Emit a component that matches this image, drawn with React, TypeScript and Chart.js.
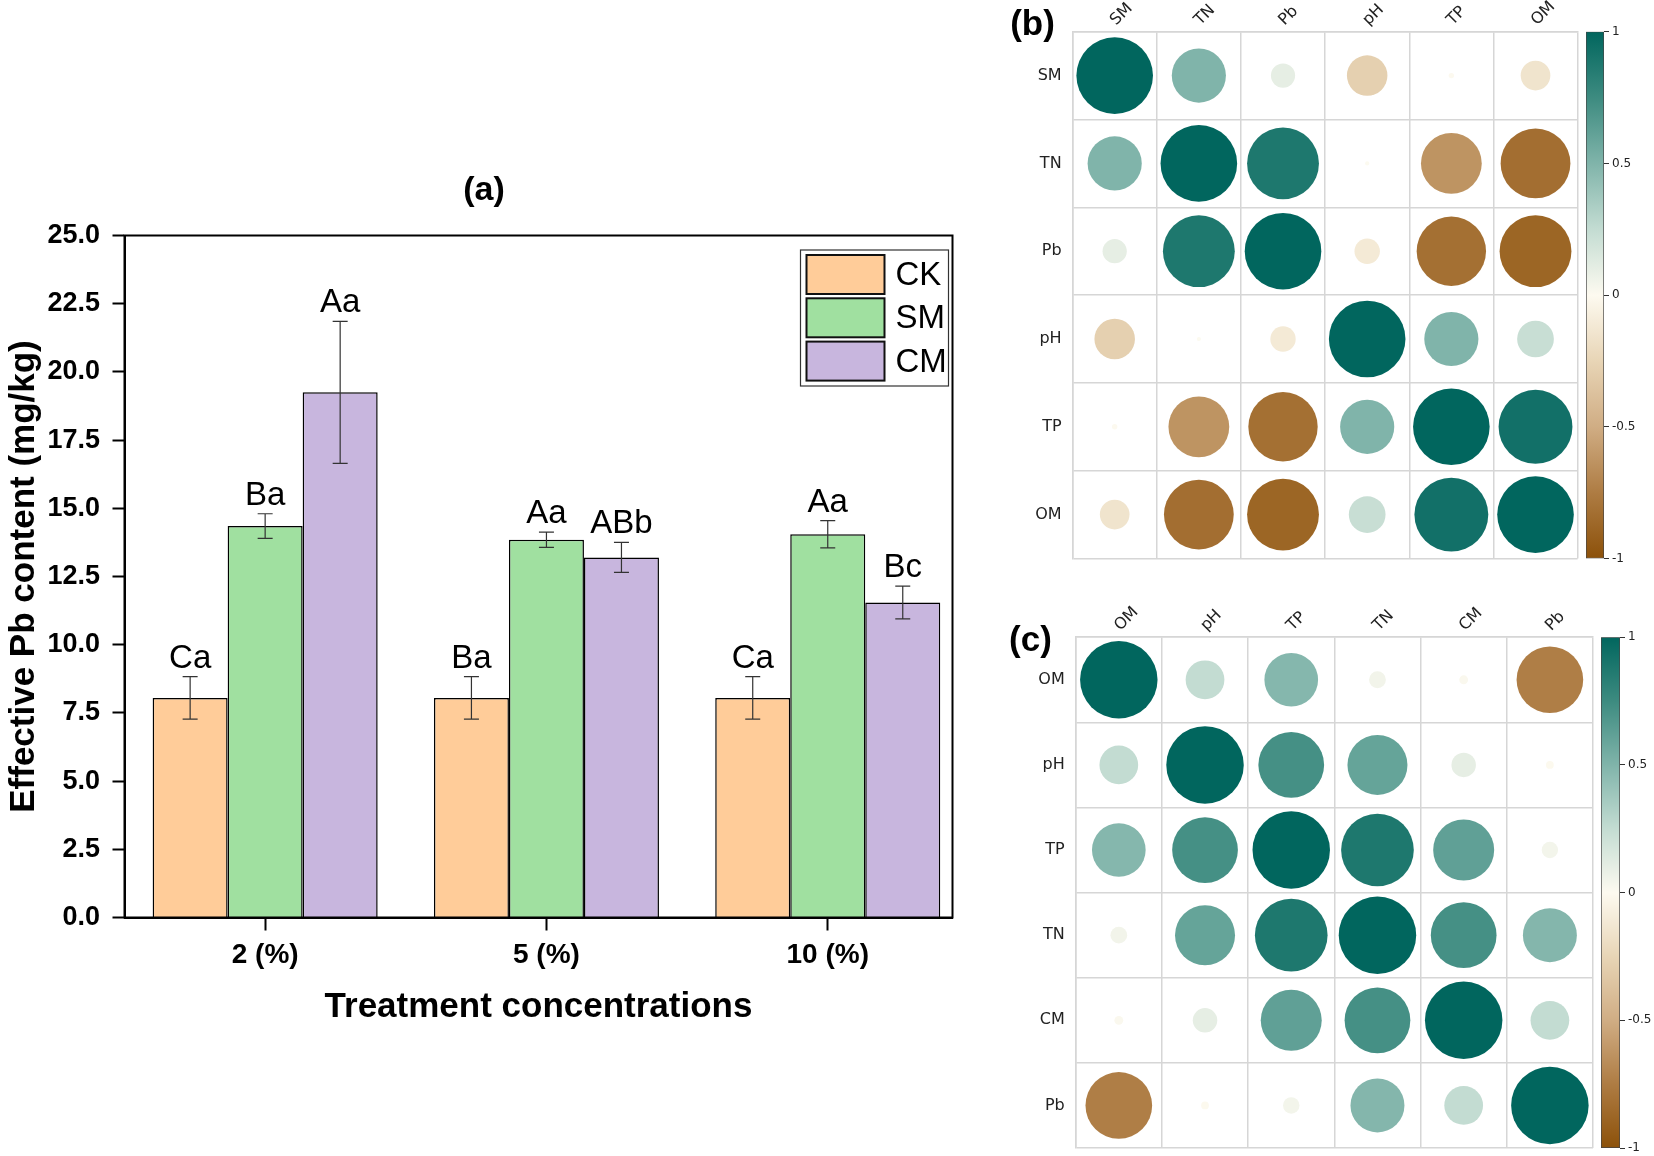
import React, { useEffect, useRef } from 'react';
import { Chart, registerables } from 'chart.js';

Chart.register(...registerables);

// ---------- Panel (a) data ----------
const categories = ['2 (%)', '5 (%)', '10 (%)'];
const seriesNames = ['CK', 'SM', 'CM'];
const ckValues = [8.05, 8.05, 8.05];
const smValues = [14.35, 13.85, 14.05];
const cmValues = [19.25, 13.2, 11.55];
const ckErrors = [0.78, 0.78, 0.78];
const smErrors = [0.45, 0.28, 0.5];
const cmErrors = [2.6, 0.55, 0.6];
const ckLetters = ['Ca', 'Ba', 'Ca'];
const smLetters = ['Ba', 'Aa', 'Aa'];
const cmLetters = ['Aa', 'ABb', 'Bc'];
const yTickValues = [0, 2.5, 5, 7.5, 10, 12.5, 15, 17.5, 20, 22.5, 25];

// ---------- Panel (b) data ----------
const bLabels = ['SM', 'TN', 'Pb', 'pH', 'TP', 'OM'];
const bCorrSM = [1, 0.5, 0.1, -0.28, 0.005, -0.15];
const bCorrTN = [0.5, 1, 0.88, 0.003, -0.63, -0.83];
const bCorrPb = [0.1, 0.88, 1, -0.11, -0.82, -0.88];
const bCorrPH = [-0.28, 0.003, -0.11, 1, 0.5, 0.23];
const bCorrTP = [0.005, -0.63, -0.82, 0.5, 1, 0.93];
const bCorrOM = [-0.15, -0.83, -0.88, 0.23, 0.93, 1];

// ---------- Panel (c) data ----------
const cLabels = ['OM', 'pH', 'TP', 'TN', 'CM', 'Pb'];
const cCorrOM = [1, 0.25, 0.48, 0.047, 0.013, -0.74];
const cCorrPH = [0.25, 1, 0.72, 0.6, 0.1, -0.01];
const cCorrTP = [0.48, 0.72, 1, 0.88, 0.62, 0.045];
const cCorrTN = [0.047, 0.6, 0.88, 1, 0.72, 0.485];
const cCorrCM = [0.013, 0.1, 0.62, 0.72, 1, 0.25];
const cCorrPb = [-0.74, -0.01, 0.045, 0.485, 0.25, 1];

const colorbarTicks = [-1, -0.5, 0, 0.5, 1];

// ---------- styles ----------
const barColors = ['#FFCC99', '#A0E0A0', '#C8B6DE'];
const cmapStops = [-1, -0.75, -0.5, -0.25, 0, 0.25, 0.5, 0.75, 1];
const cmapColors = ['#8c510a', '#ae7c43', '#d0ad84', '#e8d5b6', '#fdfaf0', '#c3dcd2', '#80b4aa', '#3d8b80', '#01665e'];
const ARIAL = '"Liberation Sans", Arial, Helvetica, sans-serif';
const DEJAVU = '"DejaVu Sans", sans-serif';

function hexToRgb(h: string) {
  const n = parseInt(h.slice(1), 16);
  return [(n >> 16) & 255, (n >> 8) & 255, n & 255];
}
function cmap(v: number) {
  const t = Math.max(-1, Math.min(1, v));
  for (let k = 0; k < cmapStops.length - 1; k++) {
    if (t >= cmapStops[k] && t <= cmapStops[k + 1]) {
      const f = (t - cmapStops[k]) / (cmapStops[k + 1] - cmapStops[k]);
      const a = hexToRgb(cmapColors[k]);
      const b = hexToRgb(cmapColors[k + 1]);
      const c = a.map((x, i) => Math.round(x + (b[i] - x) * f));
      return `rgb(${c[0]},${c[1]},${c[2]})`;
    }
  }
  return cmapColors[cmapColors.length - 1];
}

const valuesList = [ckValues, smValues, cmValues];
const errorsList = [ckErrors, smErrors, cmErrors];
const lettersList = [ckLetters, smLetters, cmLetters];

const panelAPlugin = {
  id: 'panelAExtras',
  afterDatasetsDraw(chart: any) {
    const ctx = chart.ctx;
    const ys = chart.scales.y;
    ctx.save();
    chart.data.datasets.forEach((_ds: any, d: number) => {
      const meta = chart.getDatasetMeta(d);
      meta.data.forEach((bar: any, i: number) => {
        const v = valuesList[d][i];
        const e = errorsList[d][i];
        const x = bar.x;
        const yt = ys.getPixelForValue(v + e);
        const yb = ys.getPixelForValue(v - e);
        ctx.strokeStyle = '#333';
        ctx.lineWidth = 1.2;
        ctx.beginPath();
        ctx.moveTo(x, yt); ctx.lineTo(x, yb);
        ctx.moveTo(x - 7.5, yt); ctx.lineTo(x + 7.5, yt);
        ctx.moveTo(x - 7.5, yb); ctx.lineTo(x + 7.5, yb);
        ctx.stroke();
        ctx.fillStyle = '#000';
        ctx.font = `33px ${ARIAL}`;
        ctx.textAlign = 'center';
        ctx.textBaseline = 'alphabetic';
        ctx.fillText(lettersList[d][i], x, yt - 9);
      });
    });
    const { left, top, right, bottom } = chart.chartArea;
    ctx.strokeStyle = '#000';
    ctx.lineWidth = 2;
    ctx.strokeRect(left, top, right - left, bottom - top);

    // legend box
    const lx = right - 152;
    const ly = top + 14.5;
    ctx.lineWidth = 1.2;
    ctx.strokeStyle = '#333';
    ctx.strokeRect(lx, ly, 148, 136);
    chart.data.datasets.forEach((ds: any, d: number) => {
      const sy = ly + 5 + d * 43.3;
      ctx.fillStyle = ds.backgroundColor;
      ctx.fillRect(lx + 6, sy, 78, 39);
      ctx.lineWidth = 2;
      ctx.strokeStyle = '#111';
      ctx.strokeRect(lx + 6, sy, 78, 39);
      ctx.fillStyle = '#000';
      ctx.font = `33px ${ARIAL}`;
      ctx.textAlign = 'left';
      ctx.textBaseline = 'middle';
      ctx.fillText(ds.label, lx + 95, sy + 21);
    });
    ctx.restore();
  },
};

function makeBarChart(canvas: HTMLCanvasElement) {
  return new Chart(canvas, {
    type: 'bar',
    data: {
      datasets: seriesNames.map((name, d) => ({
        label: name,
        data: valuesList[d].map((v, i) => ({ x: i, y: v })),
        backgroundColor: barColors[d],
        borderColor: '#000',
        borderWidth: 1.5,
        categoryPercentage: 0.8,
        barPercentage: 1,
      })),
    } as any,
    options: {
      animation: false,
      responsive: false,
      maintainAspectRatio: false,
      layout: { autoPadding: false, padding: { left: 3, top: 235.5, right: 13.5, bottom: 0 } },
      plugins: { legend: { display: false }, tooltip: { enabled: false }, title: { display: false } },
      scales: {
        x: {
          type: 'linear',
          min: -0.5,
          max: 2.4435,
          offset: false,
          afterBuildTicks: (s: any) => { s.ticks = categories.map((_c, i) => ({ value: i })); },
          afterFit: (s: any) => { s.height = 110.5; },
          ticks: {
            callback: (_v: any, i: number) => categories[i],
            font: { family: ARIAL, size: 28, weight: 'bold' },
            color: '#000',
            padding: 8,
            maxRotation: 0,
            autoSkip: false,
          },
          grid: { offset: false, drawOnChartArea: false, drawTicks: true, tickLength: 13, tickWidth: 2, tickColor: '#000' },
          border: { display: true, color: '#000', width: 2 },
          title: { display: true, text: 'Treatment concentrations', font: { family: ARIAL, size: 35, weight: 'bold' }, color: '#000', padding: 0 },
        },
        y: {
          min: 0,
          max: 25,
          afterBuildTicks: (s: any) => { s.ticks = yTickValues.map((v) => ({ value: v })); },
          afterFit: (s: any) => { s.width = 121.5; },
          ticks: {
            callback: (v: any) => Number(v).toFixed(1),
            font: { family: ARIAL, size: 27, weight: 'bold' },
            color: '#000',
            padding: 12.5,
          },
          grid: { drawOnChartArea: false, drawTicks: true, tickLength: 12, tickWidth: 2, tickColor: '#000' },
          border: { display: true, color: '#000', width: 2 },
          title: { display: true, text: 'Effective Pb content (mg/kg)', font: { family: ARIAL, size: 35, weight: 'bold' }, color: '#000', padding: 0 },
        },
      },
    } as any,
    plugins: [panelAPlugin],
  });
}

function makeMatrix(canvas: HTMLCanvasElement, labels: string[], rows: number[][], g: any) {
  const points: any[] = [];
  rows.forEach((row, i) => row.forEach((r, j) => points.push({ x: labels[j], y: labels[i], r })));
  const radius = (ctx: any) => {
    const ca = ctx.chart.chartArea;
    if (!ca || !ctx.raw) return 0;
    const cell = Math.min(ca.width, ca.height) / labels.length;
    return cell * 0.455 * Math.sqrt(Math.abs(ctx.raw.r));
  };
  return new Chart(canvas, {
    type: 'scatter',
    data: {
      datasets: [{
        data: points,
        pointRadius: radius,
        pointHoverRadius: radius,
        pointBackgroundColor: (ctx: any) => (ctx.raw ? cmap(ctx.raw.r) : '#fff'),
        pointBorderWidth: 0,
        pointBorderColor: 'rgba(0,0,0,0)',
      }],
    } as any,
    options: {
      animation: false,
      responsive: false,
      maintainAspectRatio: false,
      layout: { autoPadding: false, padding: g.padding },
      plugins: { legend: { display: false }, tooltip: { enabled: false } },
      scales: {
        x: {
          type: 'category',
          labels,
          position: 'top',
          offset: true,
          afterFit: (s: any) => { s.height = g.xHeight; },
          grid: { offset: true, color: '#d6d6d6', lineWidth: 1.5, drawTicks: false },
          border: { display: true, color: '#d6d6d6', width: 1.5 },
          ticks: { minRotation: 45, maxRotation: 45, autoSkip: false, labelOffset: 12, font: { family: DEJAVU, size: 16 }, color: '#222', padding: 2 },
        },
        y: {
          type: 'category',
          labels,
          offset: true,
          afterFit: (s: any) => { s.width = g.yWidth; },
          grid: { offset: true, color: '#d6d6d6', lineWidth: 1.5, drawTicks: false },
          border: { display: true, color: '#d6d6d6', width: 1.5 },
          ticks: { autoSkip: false, font: { family: DEJAVU, size: 16 }, color: '#222', padding: 11 },
        },
      },
    } as any,
  });
}

function makeColorbar(canvas: HTMLCanvasElement, g: any) {
  return new Chart(canvas, {
    type: 'bar',
    data: {
      labels: [''],
      datasets: [{
        data: [[colorbarTicks[0], colorbarTicks[colorbarTicks.length - 1]]],
        backgroundColor: (ctx: any) => {
          const chart = ctx.chart;
          if (!chart.chartArea) return '#fff';
          const ys = chart.scales.y;
          const grad = chart.ctx.createLinearGradient(0, ys.getPixelForValue(-1), 0, ys.getPixelForValue(1));
          cmapStops.forEach((s, k) => grad.addColorStop((s + 1) / 2, cmapColors[k]));
          return grad;
        },
        borderColor: '#444',
        borderWidth: 1,
        borderSkipped: false,
        barPercentage: 1,
        categoryPercentage: 1,
      }],
    } as any,
    options: {
      animation: false,
      responsive: false,
      maintainAspectRatio: false,
      layout: { autoPadding: false, padding: g.padding },
      plugins: { legend: { display: false }, tooltip: { enabled: false } },
      scales: {
        x: { display: false },
        y: {
          position: 'right',
          min: -1,
          max: 1,
          afterBuildTicks: (s: any) => { s.ticks = colorbarTicks.map((v) => ({ value: v })); },
          afterFit: (s: any) => { s.width = g.axisWidth; },
          ticks: { callback: (v: any) => String(v), font: { family: DEJAVU, size: 12 }, color: '#222', padding: 3 },
          grid: { drawOnChartArea: false, drawTicks: true, tickLength: 5, tickColor: '#333', tickWidth: 1 },
          border: { display: false },
        },
      },
    } as any,
  });
}

const abs = (l: number, t: number, w: number, h: number): React.CSSProperties => ({
  position: 'absolute', left: l, top: t, width: w, height: h,
});

const panelLabel = (cx: number, cy: number, size: number): React.CSSProperties => ({
  position: 'absolute', left: cx, top: cy, transform: 'translate(-50%, -50%)',
  fontFamily: ARIAL, fontWeight: 'bold', fontSize: size, lineHeight: 1, color: '#000', whiteSpace: 'nowrap',
});

export default function App() {
  const aRef = useRef<HTMLCanvasElement>(null);
  const bRef = useRef<HTMLCanvasElement>(null);
  const bcRef = useRef<HTMLCanvasElement>(null);
  const cRef = useRef<HTMLCanvasElement>(null);
  const ccRef = useRef<HTMLCanvasElement>(null);

  useEffect(() => {
    const charts: Chart[] = [];
    charts.push(makeBarChart(aRef.current!));
    // matrix (b): canvas 1000..1610 x 0..590 -> chart area 1072.6..1577.6 x 31.7..558.5
    charts.push(makeMatrix(bRef.current!, bLabels, [bCorrSM, bCorrTN, bCorrPb, bCorrPH, bCorrTP, bCorrOM], {
      padding: { left: 0, top: 0, right: 32.4, bottom: 31.5 }, xHeight: 31.7, yWidth: 72.6,
    }));
    // colorbar (b): canvas 1580..1654 x 0..590 -> bar 1586..1604 x 31.7..558.5
    charts.push(makeColorbar(bcRef.current!, { padding: { left: 6, top: 31.7, right: 0, bottom: 31.5 }, axisWidth: 50 }));
    // matrix (c): canvas 1000..1620 x 600..1200 -> chart area 1075.7..1593 x 637.2..1148
    charts.push(makeMatrix(cRef.current!, cLabels, [cCorrOM, cCorrPH, cCorrTP, cCorrTN, cCorrCM, cCorrPb], {
      padding: { left: 0, top: 0, right: 27, bottom: 52 }, xHeight: 37.2, yWidth: 75.7,
    }));
    // colorbar (c): canvas 1595..1654 x 600..1200 -> bar 1601..1620 x 637.2..1148
    charts.push(makeColorbar(ccRef.current!, { padding: { left: 6, top: 37.2, right: 0, bottom: 52 }, axisWidth: 34 }));
    return () => charts.forEach((c) => c.destroy());
  }, []);

  return (
    <div style={{ position: 'absolute', left: 0, top: 0, width: 1654, height: 1156, background: '#fff', overflow: 'hidden' }}>
      <canvas ref={aRef} width={966} height={1028} style={abs(0, 0, 966, 1028)} />
      <canvas ref={bRef} width={610} height={590} style={abs(1000, 0, 610, 590)} />
      <canvas ref={bcRef} width={74} height={590} style={abs(1580, 0, 74, 590)} />
      <canvas ref={cRef} width={620} height={600} style={abs(1000, 600, 620, 600)} />
      <canvas ref={ccRef} width={59} height={600} style={abs(1595, 600, 59, 600)} />
      <div style={panelLabel(484, 188, 34)}>(a)</div>
      <div style={panelLabel(1032.5, 21.5, 35)}>(b)</div>
      <div style={panelLabel(1030.5, 637.5, 35)}>(c)</div>
    </div>
  );
}
